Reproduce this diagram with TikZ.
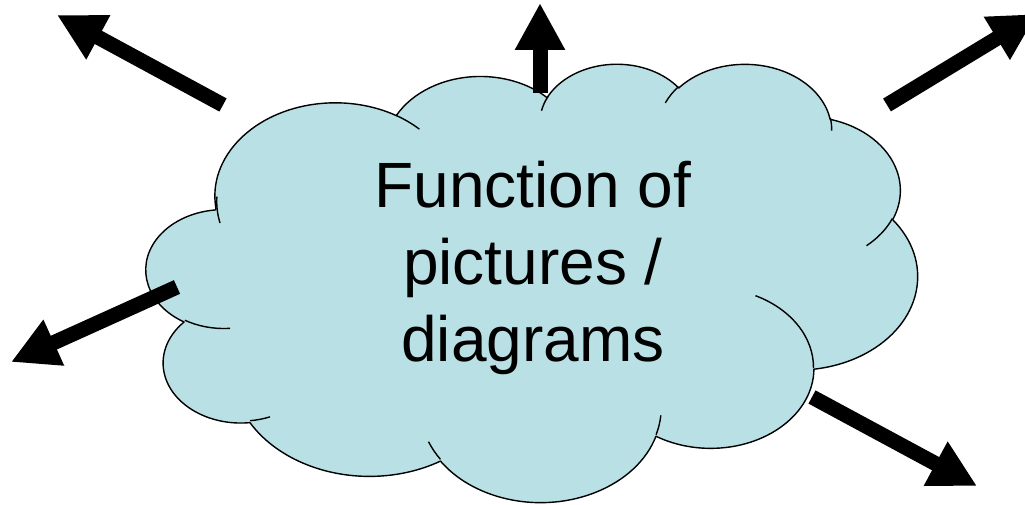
\documentclass[tikz,border=0pt]{standalone}
\usepackage{fontspec}
\setmainfont{Liberation Sans}
\usetikzlibrary{arrows.meta}
\definecolor{cloudfill}{RGB}{185,224,228}
\begin{document}
\begin{tikzpicture}[x=1pt,y=-1pt,
  cloudline/.style={draw=black, line width=1.4pt, line join=round},
  bigarrow/.style={line width=15pt, -{Triangle[length=47pt,width=47pt]}, draw=black},
  cloudtext/.style={font=\fontsize{64}{77}\selectfont, align=center, inner sep=0pt}]
\useasboundingbox (0,0) rectangle (1025,505);
\clip (0,0) rectangle (1025,505);
\begin{scope}[shift={(146.36,62.82)}, x=1.7847pt, y=-1.0144pt]
  \path[cloudline, fill=cloudfill] (39.00,143.70)
    \foreach \w/\h/\s/\d in {
      67.53/91.90/-190.48748/123.78053,
      53.33/72.67/-144.10238/89.94523,
      43.65/59.45/-145.80792/99.72302,
      48.57/65.95/-130.98607/117.24173,
      53.33/72.73/-78.70888/109.02692,
      67.75/92.20/-46.26725/130.269,
      57.85/78.67/0.62502/114.03333,
      67.52/92.15/22.4516/115.17255,
      77.20/105.43/66.24263/75.71102,
      43.60/59.18/-274.94208/146.73557,
      43.45/59.45/-246.8285/152.51885}
    { arc[x radius=\w, y radius=\h,
          start angle={atan2(\w*sin(\s),\h*cos(\s))},
          delta angle={mod(atan2(\w*sin(\s+\d),\h*cos(\s+\d))-atan2(\w*sin(\s),\h*cos(\s))+720,360)}] }
    -- cycle;
  \foreach \px/\py/\w/\h/\s/\d in {
      46.93/261.77/43.45/59.45/86.742/26.4295,
      69.28/348.99/43.60/59.18/73.61047/11.44747,
      164.78/390.90/67.52/92.15/137.62415/14.0811,
      288.27/347.51/67.52/92.15/6.45327/15.99835,
      341.29/229.54/57.85/78.67/-70.29235/70.91737,
      417.98/153.54/53.33/72.73/30.31803/27.7515,
      383.24/54.26/48.57/65.95/-13.74433/14.8589,
      290.78/39.52/48.57/65.95/-149.18145/18.19537,
      221.41/47.20/43.65/59.45/-163.49427/17.68635,
      140.00/51.92/67.53/91.90/-66.70695/12.31935,
      41.27/157.89/67.53/91.90/162.03617/21.95683}
    { \draw[cloudline] (\px,\py)
        arc[x radius=\w, y radius=\h,
            start angle={atan2(\w*sin(\s),\h*cos(\s))},
            delta angle={mod(atan2(\w*sin(\s+\d),\h*cos(\s+\d))-atan2(\w*sin(\s),\h*cos(\s))+720,360)}]; }
\end{scope}
\node[cloudtext] (title) at (533,268) {Function of\\pictures /\\diagrams};
\coordinate (t1) at (223,105); \coordinate (h1) at (57,15);
\coordinate (t2) at (540,93);  \coordinate (h2) at (540,3);
\coordinate (t3) at (887,105); \coordinate (h3) at (1037,14);
\coordinate (t4) at (177,287); \coordinate (h4) at (11,362);
\coordinate (t5) at (812,397); \coordinate (h5) at (977,486);
\draw[bigarrow] (t1) -- (h1);
\draw[bigarrow] (t2) -- (h2);
\draw[bigarrow] (t3) -- (h3);
\draw[bigarrow] (t4) -- (h4);
\draw[bigarrow] (t5) -- (h5);
\end{tikzpicture}
\end{document}
